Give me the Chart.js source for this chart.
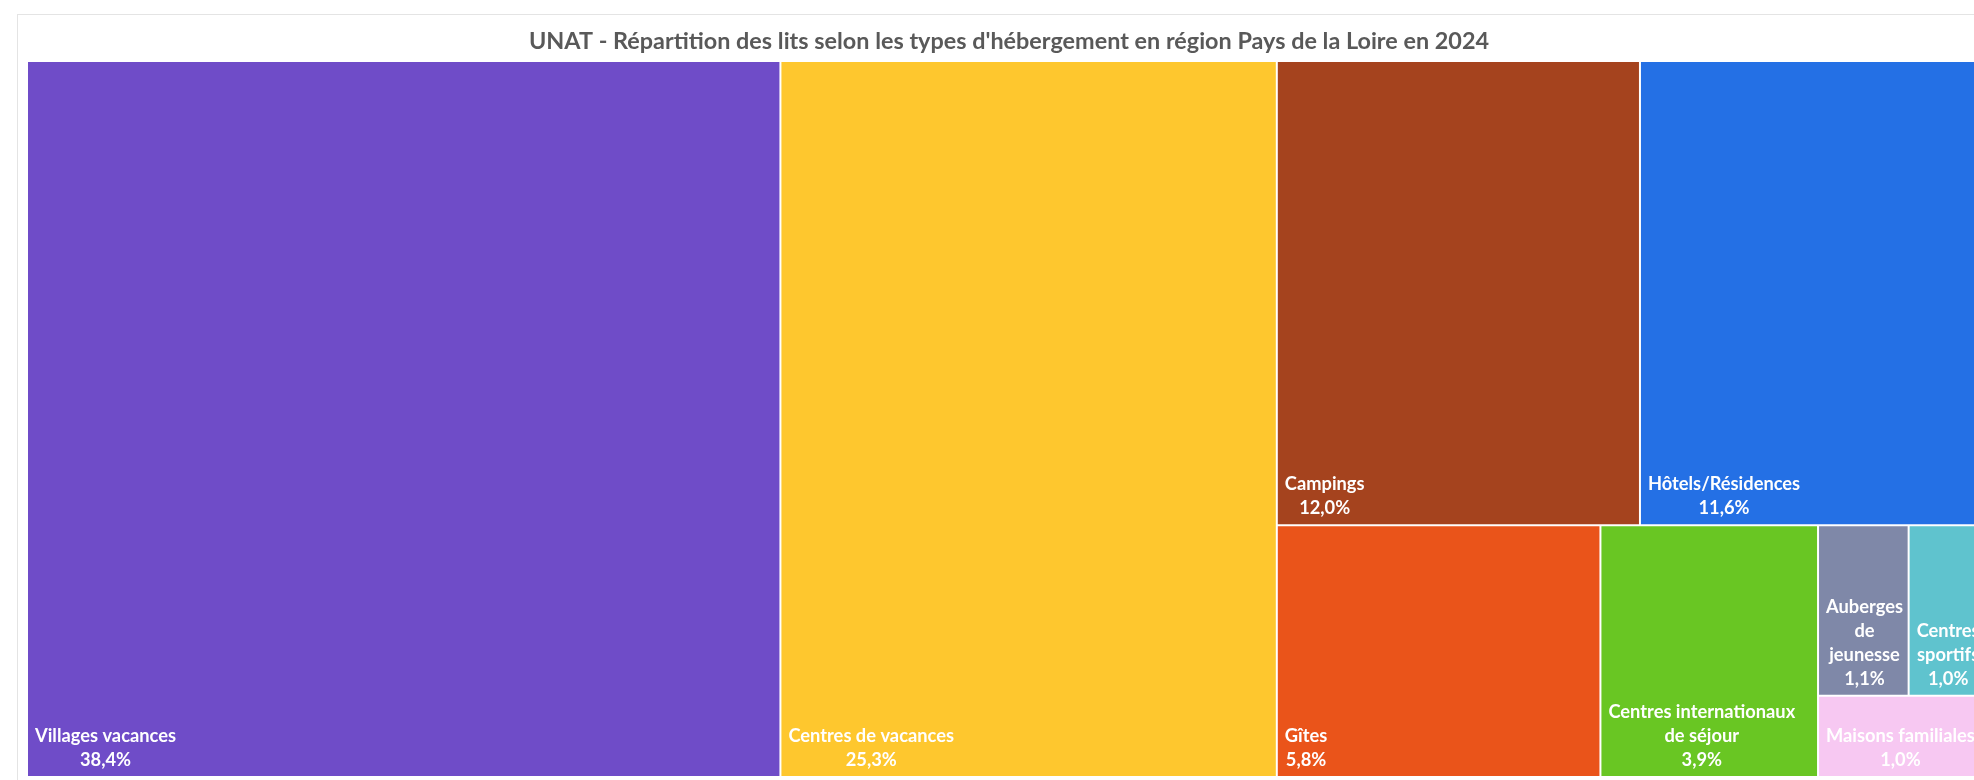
<!DOCTYPE html>
<html lang="fr">
<head>
<meta charset="utf-8">
<title>UNAT - Répartition des lits</title>
<script src="https://cdn.jsdelivr.net/npm/chart.js@4.4.1/dist/chart.umd.min.js"></script>
<style>
  html, body { margin: 0; padding: 0; background: #ffffff; overflow: hidden; }
  body { width: 1974px; height: 780px; position: relative; }
  #card { position: absolute; left: 17px; top: 14px; width: 2000px; height: 800px;
          border: 1px solid #e4e4e4; box-sizing: border-box; }
  #wrap { position: absolute; left: 0; top: 0; width: 2010px; height: 780px; }
</style>
</head>
<body>
<div id="card"></div>
<div id="wrap"><canvas id="chart" width="2010" height="780"></canvas></div>
<script>
// Bed share (%) by accommodation type, largest first
const categories = [
  'Villages vacances',
  'Centres de vacances',
  'Campings',
  'Hôtels/Résidences',
  'Gîtes',
  'Centres internationaux de séjour',
  'Auberges de jeunesse',
  'Centres sportifs',
  'Maisons familiales'
];
const shares = [38.4, 25.3, 12.0, 11.6, 5.8, 3.9, 1.1, 1.0, 1.0];
const colors = ['#6f4cc8', '#fec72e', '#a5431e', '#2470e5', '#ea541a', '#69c623', '#7f88a8', '#5fc3ce', '#f7c8f2'];
const chartTitle = "UNAT - Répartition des lits selon les types d'hébergement en région Pays de la Loire en 2024";

const labelFont = 'bold 18.3px Lato';

function formatShare(v) {
  return v.toFixed(1).replace('.', ',') + '%';
}

// Squarified treemap in a box of aspect (width/height); returns rects in [0,1] units
function squarify(values, aspect) {
  const total = values.reduce((s, v) => s + v, 0);
  const unit = aspect / total;
  const cells = [];
  let x = 0, y = 0, w = aspect, h = 1;
  const sum = arr => arr.reduce((s, v) => s + v, 0);
  const worst = (row, side) => {
    const thick = sum(row) * unit / side;
    let m = 0;
    for (const v of row) {
      const len = v * unit / thick;
      m = Math.max(m, thick / len, len / thick);
    }
    return m;
  };
  let i = 0;
  while (i < values.length) {
    const column = w > h * 1.01;
    const side = column ? h : w;
    let row = [values[i]];
    let best = worst(row, side);
    let j = i + 1;
    while (j < values.length) {
      const cand = row.concat(values[j]);
      const r = worst(cand, side);
      if (r > best * 1.1) break;
      row = cand; best = r; j++;
    }
    const thick = sum(row) * unit / side;
    let offset = 0;
    for (const v of row) {
      const len = v * unit / thick;
      if (column) cells.push({x0: x, x1: x + thick, y0: y + offset, y1: y + offset + len});
      else cells.push({x0: x + offset, x1: x + offset + len, y0: y, y1: y + thick});
      offset += len;
    }
    if (column) { x += thick; w -= thick; } else { y += thick; h -= thick; }
    i = j;
  }
  return cells.map(c => ({x0: c.x0 / aspect, x1: c.x1 / aspect, y0: c.y0, y1: c.y1}));
}

function wrapWords(ctx, text, maxWidth) {
  const words = text.split(' ');
  const lines = [];
  let cur = '';
  for (const w of words) {
    const test = cur ? cur + ' ' + w : w;
    if (cur && ctx.measureText(test).width > maxWidth) {
      lines.push(cur);
      cur = w;
    } else {
      cur = test;
    }
  }
  if (cur) lines.push(cur);
  return lines;
}

class TreemapController extends Chart.DatasetController {
  update(mode) {
    const meta = this._cachedMeta;
    this.updateElements(meta.data, 0, meta.data.length, mode);
  }
  updateElements(elements, start, count, mode) {
    const {xScale, yScale} = this._cachedMeta;
    const values = this.getDataset().data;
    const area = this.chart.chartArea;
    const cells = squarify(values, area.width / area.height);
    for (let i = start; i < start + count; i++) {
      const c = cells[i];
      const left = xScale.getPixelForValue(c.x0);
      const right = xScale.getPixelForValue(c.x1);
      const top = yScale.getPixelForValue(c.y0);
      const bottom = yScale.getPixelForValue(c.y1);
      const options = this.resolveDataElementOptions(i, mode);
      this.updateElement(elements[i], i, {
        x: (left + right) / 2,
        y: top,
        base: bottom,
        width: right - left,
        height: bottom - top,
        horizontal: false,
        enableBorderRadius: false,
        inflateAmount: 0,
        borderSkipped: {top: false, right: false, bottom: false, left: false},
        options
      }, mode);
    }
  }
  draw() {
    const ctx = this.chart.ctx;
    const meta = this._cachedMeta;
    const labels = this.chart.data.labels;
    const values = this.getDataset().data;
    meta.data.forEach(el => el.draw(ctx));

    // Cell captions: name (wrapped) then share, anchored bottom-left
    ctx.save();
    ctx.font = labelFont;
    ctx.fillStyle = '#ffffff';
    ctx.textAlign = 'center';
    ctx.textBaseline = 'alphabetic';
    const pad = 8, lineH = 24, bottomPad = 11;
    meta.data.forEach((el, i) => {
      const left = el.x - el.width / 2;
      const lines = wrapWords(ctx, labels[i], el.width - 2 * pad);
      lines.push(formatShare(values[i]));
      const blockW = Math.max(...lines.map(l => ctx.measureText(l).width));
      const cx = left + pad + blockW / 2;
      let yLine = el.base - bottomPad - (lines.length - 1) * lineH;
      for (const l of lines) {
        ctx.fillText(l, cx, yLine);
        yLine += lineH;
      }
    });
    ctx.restore();
  }
}
TreemapController.id = 'treemapLite';
TreemapController.defaults = {datasetElementType: false, dataElementType: 'bar'};
Chart.register(TreemapController);

new Chart(document.getElementById('chart'), {
  type: 'treemapLite',
  data: {
    labels: categories,
    datasets: [{
      data: shares,
      backgroundColor: colors,
      borderColor: '#ffffff',
      borderWidth: 1
    }]
  },
  options: {
    responsive: false,
    animation: false,
    events: [],
    layout: {padding: {top: 27, left: 27, right: 19, bottom: 3}},
    scales: {
      x: {type: 'linear', display: false, min: 0, max: 1},
      y: {type: 'linear', display: false, min: 0, max: 1, reverse: true}
    },
    plugins: {
      legend: {display: false},
      tooltip: {enabled: false},
      title: {
        display: true,
        text: chartTitle,
        color: '#595959',
        font: {family: 'Lato', size: 23.4, weight: 'bold'},
        padding: {top: 0, bottom: 5.9}
      }
    }
  }
});
</script>
</body>
</html>
